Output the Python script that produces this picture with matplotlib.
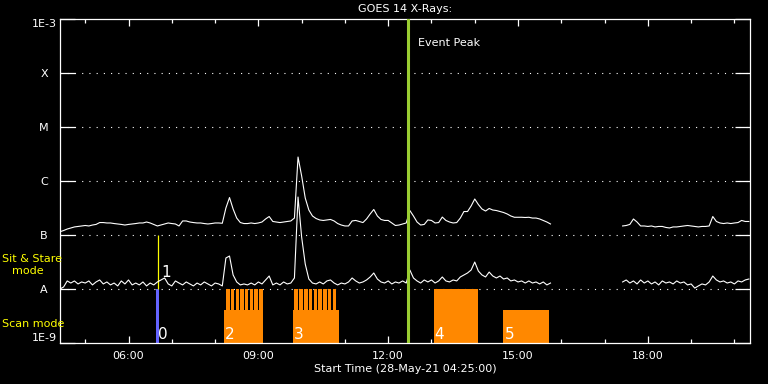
import numpy as np
import matplotlib
matplotlib.use("Agg")
import matplotlib.pyplot as plt
from matplotlib.ticker import FixedLocator, NullFormatter

# ---------------- data ----------------
axis_start_h = 4 + 25 / 60.0      # 04:25 UT
axis_end_h = 20.36
cadence_h = 5 / 60.0              # 5-minute samples
seg1_start_h = 4 + 25 / 60.0      # first data segment
seg2_start_h = 17 + 25 / 60.0     # after data gap

# GOES 1-8 A (long) channel, units of 1e-7 W/m^2
long_seg1 = [1.15, 1.21, 1.29, 1.35, 1.41, 1.44, 1.47, 1.50, 1.47, 1.53,
             1.57, 1.70, 1.70, 1.67, 1.67, 1.63, 1.60, 1.57, 1.53, 1.57,
             1.60, 1.63, 1.67, 1.67, 1.74, 1.67, 1.57, 1.47, 1.53, 1.60,
             1.67, 1.63, 1.60, 1.47, 1.82, 1.82, 1.74, 1.70, 1.67, 1.67,
             1.63, 1.60, 1.63, 1.67, 1.67, 1.65, 3.16, 4.94, 3.03, 2.06,
             1.70, 1.63, 1.63, 1.67, 1.63, 1.67, 1.74, 1.98, 2.20, 1.78,
             1.74, 1.70, 1.74, 1.78, 1.82, 2.06, 27.8, 12.4, 4.84, 2.90,
             2.25, 2.02, 1.90, 1.86, 1.90, 1.94, 1.82, 1.63, 1.53, 1.47,
             1.47, 1.82, 1.86, 1.78, 1.70, 1.98, 2.45, 2.97, 2.25, 1.94,
             1.86, 1.86, 1.67, 1.50, 1.53, 1.60, 1.67, 2.84, 2.25, 1.74,
             1.53, 1.57, 1.90, 1.86, 1.67, 1.70, 2.15, 1.86, 1.74, 1.67,
             1.70, 2.06, 2.72, 2.72, 3.45, 4.64, 3.67, 3.03, 2.78, 3.10,
             2.90, 2.84, 2.72, 2.61, 2.45, 2.25, 2.13, 2.13, 2.13, 2.11,
             2.13, 2.06, 2.06, 1.98, 1.86, 1.74, 1.60]
long_seg2 = [1.47, 1.50, 1.57, 1.98, 1.74, 1.47, 1.47, 1.44, 1.47, 1.41,
             1.44, 1.44, 1.38, 1.35, 1.41, 1.41, 1.44, 1.47, 1.50, 1.47,
             1.44, 1.41, 1.44, 1.44, 1.47, 2.20, 1.78, 1.67, 1.63, 1.67,
             1.63, 1.67, 1.70, 1.86, 1.78, 1.78]

# GOES 0.5-4 A (short) channel, units of 1e-8 W/m^2
short_seg1 = [1.00, 1.09, 1.41, 1.29, 1.41, 1.24, 1.35, 1.29, 1.41, 1.19,
              1.35, 1.47, 1.24, 1.35, 1.19, 1.29, 1.14, 1.41, 1.24, 1.47,
              1.19, 1.29, 1.19, 1.35, 1.14, 1.29, 1.19, 1.35, 1.47, 1.60,
              1.24, 1.14, 1.41, 1.29, 1.19, 1.35, 1.24, 1.14, 1.29, 1.19,
              1.35, 1.24, 1.14, 1.29, 1.24, 1.14, 3.75, 4.08, 1.82, 1.35,
              1.19, 1.24, 1.19, 1.29, 1.19, 1.35, 1.24, 1.47, 1.74, 1.19,
              1.29, 1.19, 1.35, 1.24, 1.29, 1.60, 50.5, 9.18, 2.90, 1.53,
              1.29, 1.24, 1.35, 1.24, 1.41, 1.47, 1.29, 1.19, 1.29, 1.24,
              1.35, 1.60, 1.41, 1.29, 1.35, 1.47, 1.67, 1.98, 1.53, 1.35,
              1.29, 1.41, 1.24, 1.35, 1.29, 1.41, 1.29, 2.25, 1.60, 1.41,
              1.29, 1.47, 1.35, 1.47, 1.29, 1.41, 1.67, 1.41, 1.35, 1.47,
              1.41, 1.67, 1.82, 1.98, 2.25, 3.16, 2.15, 1.82, 1.67, 2.06,
              1.74, 1.60, 1.74, 1.53, 1.60, 1.41, 1.47, 1.35, 1.41, 1.29,
              1.41, 1.29, 1.35, 1.24, 1.35, 1.19, 1.29]
short_seg2 = [1.35, 1.47, 1.29, 1.41, 1.24, 1.47, 1.29, 1.41, 1.24, 1.35,
              1.19, 1.41, 1.29, 1.35, 1.24, 1.41, 1.29, 1.35, 1.19, 1.24,
              1.04, 1.14, 1.24, 1.19, 1.35, 1.74, 1.47, 1.35, 1.41, 1.29,
              1.35, 1.24, 1.41, 1.35, 1.47, 1.53]

class_levels = [1e-9, 1e-8, 1e-7, 1e-6, 1e-5, 1e-4, 1e-3]
class_labels = ["1E-9", "A", "B", "C", "M", "X", "1E-3"]
grid_levels = [1e-8, 1e-7, 1e-6, 1e-5, 1e-4]

hour_major = [6, 9, 12, 15, 18]
hour_major_labels = ["06:00", "09:00", "12:00", "15:00", "18:00"]
hour_minor = [5, 7, 8, 10, 11, 13, 14, 16, 17, 19, 20]

event_peak_h = 12.467

# Observations: scan-mode blocks
scan_ids = ["2", "3", "4", "5"]
scan_start = [8.202, 9.794, 13.048, 14.663]
scan_end = [9.102, 10.856, 14.064, 15.725]
scan_top = [4.08e-9, 4.08e-9, 1e-8, 4.08e-9]
# sit & stare pointings inside scan blocks
stare_start = [8.258, 8.366, 8.472, 8.580, 8.690, 8.800, 8.908, 9.018,
               9.832, 9.946, 10.060, 10.164, 10.278, 10.388, 10.496, 10.602, 10.716]
stare_width = 0.08
stare_top = 1e-8
# observation 0 (blue scan), observation 1 (sit & stare)
obs0_start, obs0_end, obs0_top = 6.632, 6.701, 1e-8
obs1_time, obs1_low, obs1_high = 6.680, 1e-8, 1e-7

# ---------------- plot ----------------
W, H = 768, 384
fig = plt.figure(figsize=(W / 100, H / 100), dpi=100, facecolor="black")
ax = fig.add_axes([60 / W, 1 - 343 / H, (750 - 60) / W, (343 - 19) / H])
ax.set_facecolor("black")
ax.set_yscale("log")
ax.set_ylim(1e-9, 1e-3)
ax.set_xlim(axis_start_h, axis_end_h)

# grid (dotted)
for g in grid_levels:
    ax.axhline(g, color="white", lw=0.8, ls=(0, (1, 5.5)), zorder=1)

orange = "#ff8800"
# scan blocks
for s, e, top in zip(scan_start, scan_end, scan_top):
    ax.bar(s, top - 1e-9, width=e - s, bottom=1e-9, align="edge",
           color=orange, linewidth=0, zorder=2, antialiased=False)
for s in stare_start:
    ax.bar(s, stare_top - 1e-9, width=stare_width, bottom=1e-9, align="edge",
           color=orange, linewidth=0, zorder=2, antialiased=False)
ax.bar(obs0_start, obs0_top - 1e-9, width=obs0_end - obs0_start, bottom=1e-9,
       align="edge", color="#6464ff", linewidth=0, zorder=2, antialiased=False)
ax.vlines(obs1_time, obs1_low, obs1_high, color="yellow", lw=0.9, zorder=3)

# curves
def times(start, n):
    return start + cadence_h * np.arange(n)

for seg_start, vals in ((seg1_start_h, long_seg1), (seg2_start_h, long_seg2)):
    ax.plot(times(seg_start, len(vals)), np.array(vals) * 1e-7,
            color="white", lw=0.8, zorder=4)
for seg_start, vals in ((seg1_start_h, short_seg1), (seg2_start_h, short_seg2)):
    ax.plot(times(seg_start, len(vals)), np.array(vals) * 1e-8,
            color="white", lw=0.8, zorder=4)

# event peak line
ax.axvline(event_peak_h, color="#9acd32", lw=2.2, zorder=5)
ax.text(event_peak_h + 0.23, 10 ** (-9 + (343 - 43) / 54), "Event Peak",
        color="white", fontsize=8, va="center", ha="left")

# observation number labels
for sid, s in zip(scan_ids, scan_start):
    ax.text(s + 0.025, 1.19e-9, sid, color="white", fontsize=11,
            ha="left", va="baseline", zorder=6)
ax.text(obs0_start + 0.04, 1.19e-9, "0", color="white", fontsize=11,
        ha="left", va="baseline", zorder=6)
ax.text(obs1_time + 0.08, 1.67e-8, "1", color="white", fontsize=11,
        ha="left", va="baseline", zorder=6)

# axes styling
for sp in ax.spines.values():
    sp.set_color("white")
    sp.set_linewidth(0.9)

ax.yaxis.set_major_locator(FixedLocator(class_levels))
ax.set_yticklabels(class_labels)
ax.yaxis.set_minor_locator(FixedLocator([]))
ax.tick_params(axis="y", which="major", direction="in", length=10.8,
               width=0.9, colors="white", left=True, right=True,
               labelsize=8, pad=11.5)
ylabels = ax.get_yticklabels()
for lab in ylabels:
    lab.set_horizontalalignment("center")
ylabels[0].set_verticalalignment("bottom")
ylabels[-1].set_verticalalignment("top")

ax.xaxis.set_major_locator(FixedLocator(hour_major))
ax.set_xticklabels(hour_major_labels)
ax.xaxis.set_minor_locator(FixedLocator(hour_minor))
ax.xaxis.set_minor_formatter(NullFormatter())
ax.tick_params(axis="x", which="major", direction="in", length=5.0,
               width=0.9, colors="white", top=True, bottom=True,
               labelsize=8, pad=6)
ax.tick_params(axis="x", which="minor", direction="in", length=2.6,
               width=0.9, colors="white", top=True, bottom=True)

ax.set_xlabel("Start Time (28-May-21 04:25:00)", color="white",
              fontsize=8, labelpad=2)
ax.set_title("GOES 14 X-Rays:", color="white", fontsize=8, pad=5)

# yellow mode labels
fig.text(2 / W, 1 - 259 / H, "Sit & Stare", color="yellow", fontsize=8,
         ha="left", va="center")
fig.text(12 / W, 1 - 271 / H, "mode", color="yellow", fontsize=8,
         ha="left", va="center")
fig.text(2 / W, 1 - 324 / H, "Scan mode", color="yellow", fontsize=8,
         ha="left", va="center")

fig.savefig("out.png", dpi=100, facecolor="black")
